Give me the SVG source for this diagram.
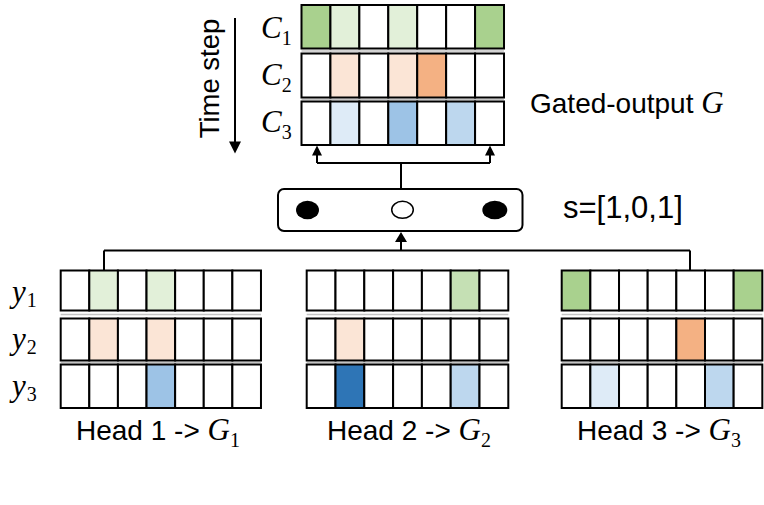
<svg xmlns="http://www.w3.org/2000/svg" width="764" height="505" viewBox="0 0 764 505">
<style>
.c{stroke:#000;stroke-width:2;fill:#fff}
.g2{fill:#A9D18E}.g1{fill:#E2F0D9}.gm{fill:#C5E0B4}
.o1{fill:#FBE5D6}.o2{fill:#F4B183}
.b1{fill:#DEEBF7}.b2{fill:#9DC3E6}.bl{fill:#BDD7EE}.b3{fill:#2E75B6}
.sep{stroke:#c4c4c4;stroke-width:1.5}
.ln{stroke:#000;stroke-width:2;fill:none}
.t{font-family:"Liberation Sans",Arial,sans-serif;font-size:28px;fill:#000}
.m{font-family:"Liberation Serif","DejaVu Serif",serif;font-style:italic;font-size:31px;fill:#000}
.s{font-family:"Liberation Serif","DejaVu Serif",serif;font-style:normal;font-size:20px;fill:#000}
</style>
<rect width="764" height="505" fill="#fff"/>

<g id="time-step">
<text class="t" style="font-size:27.5px" transform="translate(218.5,78.5) rotate(-90)" text-anchor="middle">Time step</text>
<line class="ln" x1="235" y1="18" x2="235" y2="143"/>
<polygon points="229,141.5 241,141.5 235,153.5"/>
</g>

<g id="gated-output">
<line class="sep" x1="301.5" y1="51" x2="504" y2="51"/>
<line class="sep" x1="301.5" y1="99.5" x2="504" y2="99.5"/>
<g transform="translate(301.5,5)">
<rect class="c g2" x="0" width="28.93" height="43.5"/><rect class="c g1" x="28.93" width="28.93" height="43.5"/><rect class="c" x="57.86" width="28.93" height="43.5"/><rect class="c g1" x="86.79" width="28.93" height="43.5"/><rect class="c" x="115.72" width="28.93" height="43.5"/><rect class="c" x="144.65" width="28.93" height="43.5"/><rect class="c g2" x="173.58" width="28.93" height="43.5"/>
</g>
<g transform="translate(301.5,53.5)">
<rect class="c" x="0" width="28.93" height="44"/><rect class="c o1" x="28.93" width="28.93" height="44"/><rect class="c" x="57.86" width="28.93" height="44"/><rect class="c o1" x="86.79" width="28.93" height="44"/><rect class="c o2" x="115.72" width="28.93" height="44"/><rect class="c" x="144.65" width="28.93" height="44"/><rect class="c" x="173.58" width="28.93" height="44"/>
</g>
<g transform="translate(301.5,101.5)">
<rect class="c" x="0" width="28.93" height="43.5"/><rect class="c b1" x="28.93" width="28.93" height="43.5"/><rect class="c" x="57.86" width="28.93" height="43.5"/><rect class="c b2" x="86.79" width="28.93" height="43.5"/><rect class="c" x="115.72" width="28.93" height="43.5"/><rect class="c bl" x="144.65" width="28.93" height="43.5"/><rect class="c" x="173.58" width="28.93" height="43.5"/>
</g>
<text class="m" x="261" y="38">C<tspan class="s" dx="0" dy="7">1</tspan></text>
<text class="m" x="261" y="85">C<tspan class="s" dx="0" dy="7">2</tspan></text>
<text class="m" x="261" y="132">C<tspan class="s" dx="0" dy="7">3</tspan></text>
<text class="t" x="530" y="113">Gated-output <tspan class="m">G</tspan></text>
</g>

<g id="selector">
<rect x="278" y="189" width="244.5" height="42" rx="6" ry="6" fill="#fff" stroke="#000" stroke-width="2"/>
<ellipse cx="307.5" cy="210" rx="11.5" ry="9.3" fill="#000"/>
<ellipse cx="402.5" cy="209.8" rx="10.8" ry="8.5" fill="#fff" stroke="#000" stroke-width="1.5"/>
<ellipse cx="494.8" cy="210" rx="12.5" ry="9.3" fill="#000"/>
<text class="t" style="font-size:31px" x="563" y="218">s=[1,0,1]</text>
</g>

<g id="connectors">
<path class="ln" d="M317,163 H490 M317,163 V154 M490,163 V154 M401,163 V189"/>
<polygon points="312,155.5 322,155.5 317,145.5"/>
<polygon points="485,155.5 495,155.5 490,145.5"/>
<path class="ln" d="M104,250.5 H690 M104,250.5 V270.5 M690,250.5 V270.5 M401,250.5 V240"/>
<polygon points="395,242 407,242 401,232"/>
</g>

<g id="row-labels">
<text class="m" x="12" y="302">y<tspan class="s" dx="1" dy="5">1</tspan></text>
<text class="m" x="12" y="349">y<tspan class="s" dx="1" dy="5">2</tspan></text>
<text class="m" x="12" y="396">y<tspan class="s" dx="1" dy="5">3</tspan></text>
</g>

<g id="head1">
<line class="sep" x1="60.7" y1="314.5" x2="261" y2="314.5"/>
<line class="sep" x1="60.7" y1="362.5" x2="261" y2="362.5"/>
<g transform="translate(60.7,270.5)">
<rect class="c" x="0" width="28.61" height="40"/><rect class="c g1" x="28.61" width="28.61" height="40"/><rect class="c" x="57.22" width="28.61" height="40"/><rect class="c g1" x="85.83" width="28.61" height="40"/><rect class="c" x="114.44" width="28.61" height="40"/><rect class="c" x="143.05" width="28.61" height="40"/><rect class="c" x="171.66" width="28.61" height="40"/>
</g>
<g transform="translate(60.7,318.5)">
<rect class="c" x="0" width="28.61" height="42"/><rect class="c o1" x="28.61" width="28.61" height="42"/><rect class="c" x="57.22" width="28.61" height="42"/><rect class="c o1" x="85.83" width="28.61" height="42"/><rect class="c" x="114.44" width="28.61" height="42"/><rect class="c" x="143.05" width="28.61" height="42"/><rect class="c" x="171.66" width="28.61" height="42"/>
</g>
<g transform="translate(60.7,364.5)">
<rect class="c" x="0" width="28.61" height="43.5"/><rect class="c" x="28.61" width="28.61" height="43.5"/><rect class="c" x="57.22" width="28.61" height="43.5"/><rect class="c b2" x="85.83" width="28.61" height="43.5"/><rect class="c" x="114.44" width="28.61" height="43.5"/><rect class="c" x="143.05" width="28.61" height="43.5"/><rect class="c" x="171.66" width="28.61" height="43.5"/>
</g>
<text class="t" x="76" y="440">Head 1 -&gt; <tspan class="m">G</tspan><tspan class="s" dx="0" dy="7">1</tspan></text>
</g>

<g id="head2">
<line class="sep" x1="306.7" y1="314.5" x2="508.3" y2="314.5"/>
<line class="sep" x1="306.7" y1="362.5" x2="508.3" y2="362.5"/>
<g transform="translate(306.7,270.5)">
<rect class="c" x="0" width="28.8" height="40"/><rect class="c" x="28.8" width="28.8" height="40"/><rect class="c" x="57.6" width="28.8" height="40"/><rect class="c" x="86.4" width="28.8" height="40"/><rect class="c" x="115.2" width="28.8" height="40"/><rect class="c gm" x="144" width="28.8" height="40"/><rect class="c" x="172.8" width="28.8" height="40"/>
</g>
<g transform="translate(306.7,318.5)">
<rect class="c" x="0" width="28.8" height="42"/><rect class="c o1" x="28.8" width="28.8" height="42"/><rect class="c" x="57.6" width="28.8" height="42"/><rect class="c" x="86.4" width="28.8" height="42"/><rect class="c" x="115.2" width="28.8" height="42"/><rect class="c" x="144" width="28.8" height="42"/><rect class="c" x="172.8" width="28.8" height="42"/>
</g>
<g transform="translate(306.7,364.5)">
<rect class="c" x="0" width="28.8" height="43.5"/><rect class="c b3" x="28.8" width="28.8" height="43.5"/><rect class="c" x="57.6" width="28.8" height="43.5"/><rect class="c" x="86.4" width="28.8" height="43.5"/><rect class="c" x="115.2" width="28.8" height="43.5"/><rect class="c bl" x="144" width="28.8" height="43.5"/><rect class="c" x="172.8" width="28.8" height="43.5"/>
</g>
<text class="t" x="327" y="440">Head 2 -&gt; <tspan class="m">G</tspan><tspan class="s" dx="0" dy="7">2</tspan></text>
</g>

<g id="head3">
<line class="sep" x1="561.7" y1="314.5" x2="762.3" y2="314.5"/>
<line class="sep" x1="561.7" y1="362.5" x2="762.3" y2="362.5"/>
<g transform="translate(561.7,270.5)">
<rect class="c g2" x="0" width="28.66" height="40"/><rect class="c" x="28.66" width="28.66" height="40"/><rect class="c" x="57.32" width="28.66" height="40"/><rect class="c" x="85.98" width="28.66" height="40"/><rect class="c" x="114.64" width="28.66" height="40"/><rect class="c" x="143.3" width="28.66" height="40"/><rect class="c g2" x="171.96" width="28.66" height="40"/>
</g>
<g transform="translate(561.7,318.5)">
<rect class="c" x="0" width="28.66" height="42"/><rect class="c" x="28.66" width="28.66" height="42"/><rect class="c" x="57.32" width="28.66" height="42"/><rect class="c" x="85.98" width="28.66" height="42"/><rect class="c o2" x="114.64" width="28.66" height="42"/><rect class="c" x="143.3" width="28.66" height="42"/><rect class="c" x="171.96" width="28.66" height="42"/>
</g>
<g transform="translate(561.7,364.5)">
<rect class="c" x="0" width="28.66" height="43.5"/><rect class="c b1" x="28.66" width="28.66" height="43.5"/><rect class="c" x="57.32" width="28.66" height="43.5"/><rect class="c" x="85.98" width="28.66" height="43.5"/><rect class="c" x="114.64" width="28.66" height="43.5"/><rect class="c bl" x="143.3" width="28.66" height="43.5"/><rect class="c" x="171.96" width="28.66" height="43.5"/>
</g>
<text class="t" x="577" y="440">Head 3 -&gt; <tspan class="m">G</tspan><tspan class="s" dx="0" dy="7">3</tspan></text>
</g>
</svg>
